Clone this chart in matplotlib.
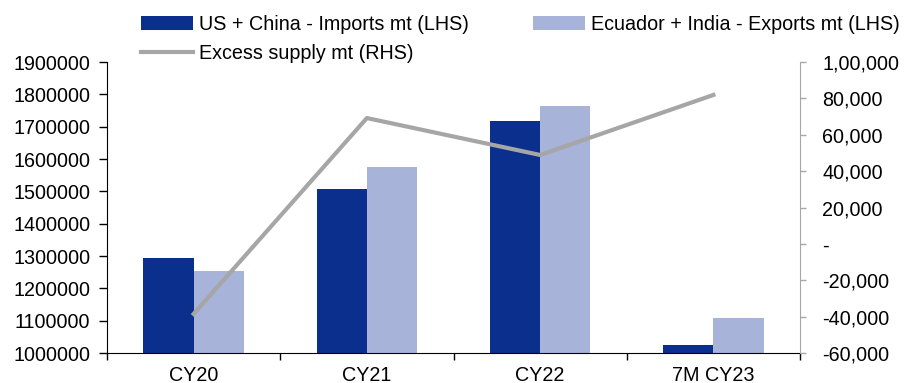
import matplotlib

matplotlib.use("Agg")
import matplotlib.pyplot as plt
import numpy as np
from matplotlib.ticker import FuncFormatter

plt.rcParams["font.family"] = ["Liberation Sans", "DejaVu Sans"]

categories = ["CY20", "CY21", "CY22", "7M CY23"]
us_china_imports = [1293000, 1507000, 1717000, 1024000]
ecuador_india_exports = [1254000, 1575000, 1764000, 1107000]
excess_supply = [-38500, 69200, 48900, 81900]

DARK = "#0B2F8C"
LIGHT = "#A7B3D9"
GREY = "#A6A6A6"
FS = 14.2


def indian_fmt(value, _pos):
    if abs(value) < 1:
        return "-"
    if value >= 100000:
        lakh = int(value // 100000)
        rest = int(value % 100000)
        return f"{lakh},{rest // 1000:02d},{rest % 1000:03d}"
    return f"{value:,.0f}"


def main() -> None:
    figure = plt.figure(figsize=(9.17, 3.83), dpi=100)
    axis = figure.add_axes([0.1167, 0.0783, 0.7557, 0.7597])
    x = np.arange(len(categories))
    width = 0.29

    bars1 = axis.bar(x - width / 2, us_china_imports, width, color=DARK,
                     label="US + China - Imports mt (LHS)")
    bars2 = axis.bar(x + width / 2, ecuador_india_exports, width, color=LIGHT,
                     label="Ecuador + India - Exports mt (LHS)")
    axis.set_ylim(1000000, 1900000)
    axis.set_yticks(np.arange(1000000, 1900001, 100000))
    axis.yaxis.set_major_formatter(FuncFormatter(lambda v, p: f"{v:.0f}"))
    axis.set_xlim(-0.5, len(categories) - 0.5)
    axis.set_xticks(x)
    axis.set_xticklabels(categories)
    axis.set_xticks(np.arange(-0.5, len(categories)), minor=True)
    axis.tick_params(axis="x", which="major", length=0, pad=9, labelsize=FS)
    axis.tick_params(axis="x", which="minor", length=5, width=1, direction="out")
    axis.tick_params(axis="y", length=6, width=1, pad=6, labelsize=FS)
    axis.spines["top"].set_visible(False)
    axis.spines["right"].set_visible(False)

    right = axis.twinx()
    (line,) = right.plot(x, excess_supply, color=GREY, linewidth=3,
                         label="Excess supply mt (RHS)")
    right.set_ylim(-60000, 100000)
    right.set_yticks(np.arange(-60000, 100001, 20000))
    right.yaxis.set_major_formatter(FuncFormatter(indian_fmt))
    right.tick_params(axis="y", length=4, width=1, pad=12, labelsize=FS, color=GREY)
    right.spines["top"].set_visible(False)
    right.spines["left"].set_visible(False)
    right.spines["bottom"].set_visible(False)
    right.spines["right"].set_color(GREY)

    figure.legend([bars1, line, bars2],
                  [bars1.get_label(), line.get_label(), bars2.get_label()],
                  ncol=2, loc="upper left", bbox_to_anchor=(0.134, 1.008),
                  frameon=False, fontsize=FS, handlelength=2.65,
                  handletextpad=0.3, columnspacing=3.25, labelspacing=0.5)

    figure.savefig("out.png", dpi=100)
    plt.close(figure)


if __name__ == "__main__":
    main()
